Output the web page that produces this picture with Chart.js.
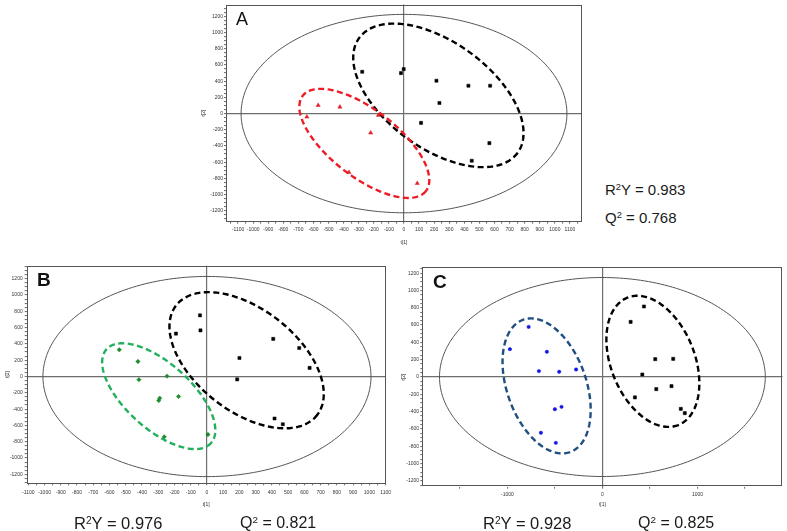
<!DOCTYPE html>
<html>
<head>
<meta charset="utf-8">
<script src="https://cdn.jsdelivr.net/npm/chart.js@4.4.0/dist/chart.umd.min.js"></script>
<style>
body { margin:0; background:#fff; width:787px; height:531px; position:relative; overflow:hidden; font-family:"Liberation Sans", Arial, sans-serif; }
canvas { position:absolute; }
.stat { position:absolute; color:#1a1a1a; white-space:nowrap; line-height:1; }
.stat sup { font-size:0.62em; vertical-align:0.5em; line-height:0; }
.tag { position:absolute; line-height:1; color:#111; }
</style>
</head>
<body>
<canvas id="panelA" width="400" height="250" style="left:190px;top:0"></canvas>
<canvas id="panelB" width="395" height="281" style="left:0;top:250px"></canvas>
<canvas id="panelC" width="392" height="281" style="left:395px;top:250px"></canvas>

<div class="tag" style="left:236px;top:10px;font-size:18px">A</div>
<div class="tag" style="left:37px;top:270px;font-size:19px;font-weight:bold">B</div>
<div class="tag" style="left:433px;top:272px;font-size:19px;font-weight:bold">C</div>

<div class="stat" style="left:605px;top:182px;font-size:15px">R<sup>2</sup>Y = 0.983</div>
<div class="stat" style="left:605px;top:210px;font-size:15px">Q<sup>2</sup> = 0.768</div>
<div class="stat" style="left:74px;top:515px;font-size:16.5px">R<sup>2</sup>Y = 0.976</div>
<div class="stat" style="left:240px;top:515px;font-size:16px">Q<sup>2</sup> = 0.821</div>
<div class="stat" style="left:483px;top:515px;font-size:16.5px">R<sup>2</sup>Y = 0.928</div>
<div class="stat" style="left:638px;top:515px;font-size:16px">Q<sup>2</sup> = 0.825</div>

<script>
// score values, t[1] / t[2]
const aBlackX = [-277, -20, -2, 215, 235, 427, 571, 113, 566, 449];
const aBlackY = [516, 500, 549, 406, 131, 344, 344, -115, -365, -582];
const aRedX = [-569, -425, -644, -170, -221, -365, 88];
const aRedY = [102, 82, -41, -20, -238, -725, -861];

const bBlackX = [-43, -40, -191, 408, 568, 632, 200, 186, 416, 467];
const bBlackY = [751, 566, 527, 462, 350, 106, 228, -35, -515, -585];
const bGreenX = [-540, -425, -419, -246, -297, -291, -175, -263, 6];
const bGreenY = [328, 185, -38, 5, -295, -265, -245, -740, -712];

const cBlackX = [437, 297, 556, 745, 420, 567, 727, 342, 825, 867];
const cBlackY = [815, 637, 206, 210, 29, -140, -106, -236, -368, -418];
const cBlueX = [-776, -973, -584, -668, -455, -277, -500, -430, -647, -490];
const cBlueY = [579, 322, 291, 68, 60, 87, -372, -345, -645, -761];

// ellipses in data units: centre, two conjugate half-axes
const aHotelling = { c: [0, 0], u: [1080, 0], v: [0, 1225] };
const aBlackRegion = { c: [228, 225], u: [524, -712], v: [-210, -528] };
const aRedRegion = { c: [-263, -368], u: [408, -589], v: [-138, -327] };

const bHotelling = { c: [0, 0], u: [1010, 0], v: [0, 1228] };
const bBlackRegion = { c: [244, 200], u: [435, -670], v: [-191, -499] };
const bGreenRegion = { c: [-297, -241], u: [322, -575], v: [-133, -301] };

const cHotelling = { c: [0, 0], u: [1714, 0], v: [0, 1150] };
const cBlackRegion = { c: [531, 181], u: [268, -736], v: [-409, -180] };
const cBlueRegion = { c: [-587, -103], u: [246, -765], v: [-393, -153] };

const tickFont = { family: 'Liberation Sans', size: 5 };

function points(xs, ys) {
    return xs.map((x, i) => ({ x: x, y: ys[i] }));
}

// draws the ellipses through the chart scales, plus the plot frame
function ellipsePlugin(items) {
    return {
        id: 'ellipses',
        beforeDatasetsDraw(chart) {
            const { ctx, chartArea, scales } = chart;
            ctx.save();
            ctx.beginPath();
            ctx.rect(chartArea.left, chartArea.top, chartArea.width, chartArea.height);
            ctx.clip();
            items.forEach(e => {
                ctx.beginPath();
                for (let i = 0; i <= 240; i++) {
                    const t = i / 240 * Math.PI * 2;
                    const dx = e.shape.c[0] + e.shape.u[0] * Math.cos(t) + e.shape.v[0] * Math.sin(t);
                    const dy = e.shape.c[1] + e.shape.u[1] * Math.cos(t) + e.shape.v[1] * Math.sin(t);
                    const px = scales.x.getPixelForValue(dx);
                    const py = scales.y.getPixelForValue(dy);
                    if (i === 0) ctx.moveTo(px, py); else ctx.lineTo(px, py);
                }
                ctx.closePath();
                ctx.setLineDash(e.dash || []);
                ctx.lineWidth = e.width;
                ctx.strokeStyle = e.color;
                ctx.stroke();
            });
            ctx.restore();
        },
        afterDraw(chart) {
            const { ctx, chartArea } = chart;
            ctx.save();
            ctx.strokeStyle = '#555';
            ctx.lineWidth = 1;
            ctx.strokeRect(Math.round(chartArea.left) + 0.5, Math.round(chartArea.top) + 0.5,
                Math.round(chartArea.width) - 1, Math.round(chartArea.height) - 1);
            ctx.restore();
        }
    };
}

function makeAxis(o) {
    return {
        type: 'linear',
        min: o.min,
        max: o.max,
        // tick marks every step, labels every labelStep
        afterBuildTicks: s => {
            const ticks = [];
            for (let v = Math.ceil(o.min / o.step) * o.step; v <= o.max; v += o.step) ticks.push({ value: v });
            s.ticks = ticks;
        },
        afterFit: s => { if (o.horizontal) s.height = o.size; else s.width = o.size; },
        ticks: {
            stepSize: o.step,
            autoSkip: false,
            maxRotation: 0,
            minRotation: 0,
            font: tickFont,
            color: '#333',
            padding: o.pad,
            callback: v => (Math.abs(v % o.labelStep) < 1e-6 ? String(v) : '')
        },
        grid: {
            color: c => (c.tick && c.tick.value === 0 ? '#6e6e6e' : 'rgba(0,0,0,0)'),
            lineWidth: 1.2,
            tickLength: 2,
            tickColor: '#444',
            tickWidth: 0.8
        },
        border: { display: false },
        title: {
            display: true,
            text: o.title,
            font: tickFont,
            color: '#333',
            padding: o.horizontal ? { top: 0, bottom: o.titlePad } : { top: o.titlePad, bottom: 0 }
        }
    };
}

function makePanel(id, cfg) {
    const ctx = document.getElementById(id).getContext('2d');
    new Chart(ctx, {
        type: 'scatter',
        data: { datasets: cfg.datasets },
        options: {
            responsive: false,
            animation: false,
            devicePixelRatio: 1,
            layout: { padding: cfg.padding },
            plugins: { legend: { display: false }, tooltip: { enabled: false } },
            scales: { x: cfg.x, y: cfg.y }
        },
        plugins: [ellipsePlugin(cfg.ellipses)]
    });
}

const dash = [6, 3.5];

makePanel('panelA', {
    padding: { left: 0, right: 8, top: 3.3, bottom: 0 },
    x: makeAxis({ horizontal: true, min: -1180, max: 1180, step: 50, labelStep: 100, size: 28.3, pad: 2.5, title: 't[1]', titlePad: 4.3 }),
    y: makeAxis({ min: -1335, max: 1347, step: 50, labelStep: 200, size: 36, pad: 1, title: 't[2]', titlePad: 11 }),
    datasets: [
        { data: points(aBlackX, aBlackY), pointStyle: 'rect', pointRadius: 2.2, backgroundColor: '#000', borderColor: '#000', borderWidth: 0.5 },
        { data: points(aRedX, aRedY), pointStyle: 'triangle', pointRadius: 2.4, backgroundColor: '#e41e26', borderColor: '#e41e26', borderWidth: 0.5 }
    ],
    ellipses: [
        { shape: aHotelling, color: '#555', width: 1 },
        { shape: aBlackRegion, color: '#000', width: 2.4, dash: dash },
        { shape: aRedRegion, color: '#ee1c24', width: 2.4, dash: dash }
    ]
});

makePanel('panelB', {
    padding: { left: 0, right: 6.7, top: 15.7, bottom: 19.7 },
    x: makeAxis({ horizontal: true, min: -1110, max: 1100, step: 50, labelStep: 100, size: 28, pad: 4, title: 't[1]', titlePad: 4 }),
    y: makeAxis({ min: -1310, max: 1360, step: 50, labelStep: 200, size: 26.7, pad: 2, title: 't[2]', titlePad: 4.3 }),
    datasets: [
        { data: points(bBlackX, bBlackY), pointStyle: 'rect', pointRadius: 2.2, backgroundColor: '#000', borderColor: '#000', borderWidth: 0.5 },
        { data: points(bGreenX, bGreenY), pointStyle: 'rectRot', pointRadius: 2.2, backgroundColor: '#1e8a2a', borderColor: '#1e8a2a', borderWidth: 0.5 }
    ],
    ellipses: [
        { shape: bHotelling, color: '#555', width: 1 },
        { shape: bBlackRegion, color: '#000', width: 2.4, dash: dash },
        { shape: bGreenRegion, color: '#22b05c', width: 2.4, dash: dash }
    ]
});

makePanel('panelC', {
    padding: { left: 0, right: 3.7, top: 17.3, bottom: 16.3 },
    x: makeAxis({ horizontal: true, min: -1895, max: 1895, step: 500, labelStep: 1000, size: 28, pad: 2.5, title: 't[1]', titlePad: 6.7 }),
    y: makeAxis({ min: -1268, max: 1268, step: 50, labelStep: 200, size: 27.3, pad: 1.3, title: 't[2]', titlePad: 5.3 }),
    datasets: [
        { data: points(cBlackX, cBlackY), pointStyle: 'rect', pointRadius: 2.2, backgroundColor: '#000', borderColor: '#000', borderWidth: 0.5 },
        { data: points(cBlueX, cBlueY), pointStyle: 'circle', pointRadius: 1.7, backgroundColor: '#1414e6', borderColor: '#1414e6', borderWidth: 0.5 }
    ],
    ellipses: [
        { shape: cHotelling, color: '#555', width: 1 },
        { shape: cBlackRegion, color: '#000', width: 2.4, dash: dash },
        { shape: cBlueRegion, color: '#1f4e80', width: 2.4, dash: dash }
    ]
});
</script>
</body>
</html>
